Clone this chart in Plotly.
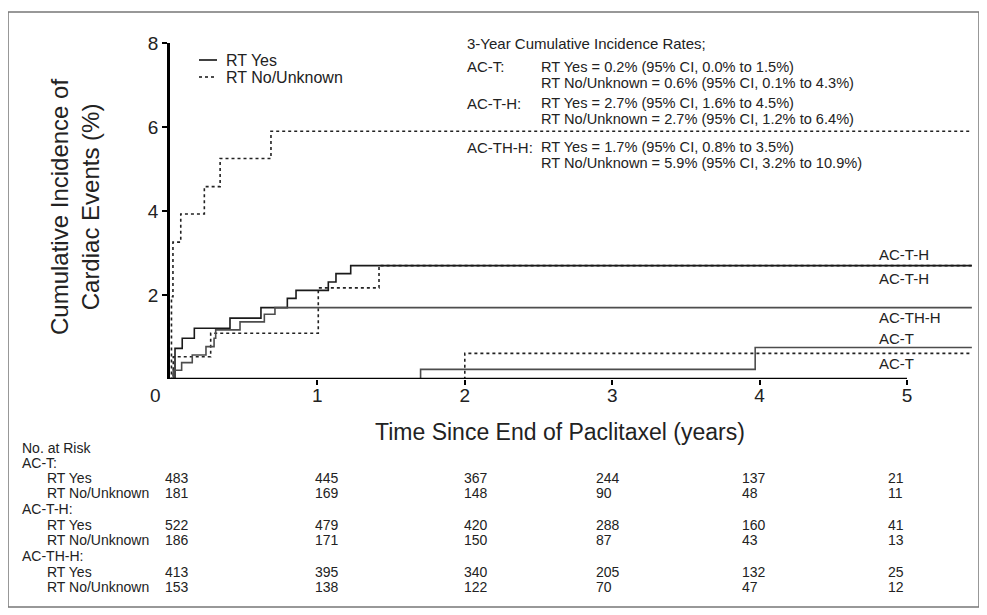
import plotly.graph_objects as go

# ---------------- data ----------------
# step functions: event times (years) and cumulative incidence (%)
act_yes_t = [0, 1.70, 3.97, 5.44]
act_yes_y = [0, 0.23, 0.75, 0.75]
act_no_t = [0, 2.00, 5.44]
act_no_y = [0, 0.61, 0.61]

acth_yes_t = [0, 0.034, 0.083, 0.165, 0.407, 0.617, 0.796, 0.855, 1.074, 1.126, 1.226, 5.44]
acth_yes_y = [0, 0.73, 0.97, 1.21, 1.45, 1.70, 1.92, 2.11, 2.31, 2.51, 2.70, 2.70]
acth_no_t = [0, 0.022, 0.276, 1.006, 1.418, 5.44]
acth_no_y = [0, 0.53, 1.09, 2.17, 2.70, 2.70]

acthh_yes_t = [0, 0.022, 0.079, 0.151, 0.244, 0.299, 0.31, 0.475, 0.64, 0.712, 5.44]
acthh_yes_y = [0, 0.21, 0.39, 0.57, 0.77, 0.97, 1.17, 1.36, 1.54, 1.70, 1.70]
acthh_no_t = [0, 0.01, 0.02, 0.073, 0.233, 0.34, 0.685, 5.44]
acthh_no_y = [0, 1.96, 3.26, 3.93, 4.58, 5.25, 5.90, 5.90]

x_tick_vals = [1, 2, 3, 4, 5]
y_tick_vals = [2, 4, 6, 8]

risk_times = [0, 1, 2, 3, 4, 5]
risk_act_yes = [483, 445, 367, 244, 137, 21]
risk_act_no = [181, 169, 148, 90, 48, 11]
risk_acth_yes = [522, 479, 420, 288, 160, 41]
risk_acth_no = [186, 171, 150, 87, 43, 13]
risk_acthh_yes = [413, 395, 340, 205, 132, 25]
risk_acthh_no = [153, 138, 122, 70, 47, 12]

legend_names = ["RT Yes", "RT No/Unknown"]

rates_title = "3-Year Cumulative Incidence Rates;"
rates_groups = ["AC-T:", "AC-T-H:", "AC-TH-H:"]
rates_yes = ["RT Yes = 0.2% (95% CI, 0.0% to 1.5%)",
             "RT Yes = 2.7% (95% CI, 1.6% to 4.5%)",
             "RT Yes = 1.7% (95% CI, 0.8% to 3.5%)"]
rates_no = ["RT No/Unknown = 0.6% (95% CI, 0.1% to 4.3%)",
            "RT No/Unknown = 2.7% (95% CI, 1.2% to 6.4%)",
            "RT No/Unknown = 5.9% (95% CI, 3.2% to 10.9%)"]

# ---------------- layout constants ----------------
W, H = 987, 615
OFF = 8  # page body margin
SL, SR, ST, SB = 170, 975, 43, 379  # plot area in screen pixels
ML, MR, MT, MB = SL - OFF, W - (SR - OFF), ST - OFF, H - (SB - OFF)
PW, PH = SR - SL, SB - ST
X_MAX = PW / 147.4
FONT = "Liberation Sans, Arial, Helvetica, sans-serif"
TXT = "#222222"


def pxx(px):
    return (px - SL) / PW


def pxy(py):
    return (SB - py) / PH


def note(fig, text, x, y, size, xanchor="left", xref="paper", yref="paper", **kw):
    fig.add_annotation(x=x, y=y, xref=xref, yref=yref, text=text, showarrow=False,
                       xanchor=xanchor, yanchor="middle",
                       font=dict(size=size, color=TXT), **kw)


fig = go.Figure()

curves = [
    # t, y, name, color, dash, label, label yshift
    (acthh_no_t, acthh_no_y, "AC-TH-H RT No/Unknown", "#222222", "dot", None, 0),
    (acth_no_t, acth_no_y, "AC-T-H RT No/Unknown", "#222222", "dot", "AC-T-H", 11),
    (acth_yes_t, acth_yes_y, "AC-T-H RT Yes", "#1a1a1a", "solid", "AC-T-H", -13),
    (acthh_yes_t, acthh_yes_y, "AC-TH-H RT Yes", "#4d4d4d", "solid", "AC-TH-H", -10),
    (act_yes_t, act_yes_y, "AC-T RT Yes", "#4d4d4d", "solid", "AC-T", 9),
    (act_no_t, act_no_y, "AC-T RT No/Unknown", "#222222", "dot", "AC-T", -10),
]
for t, y, name, col, dash, lab, ys in curves:
    fig.add_trace(go.Scatter(
        x=t, y=y, mode="lines", name=name, line_shape="hv",
        line=dict(color=col, width=1.6, dash=dash),
        showlegend=False, hoverinfo="skip"))
    if lab:
        note(fig, lab, 4.796, y[-1], 15, xref="x", yref="y", yshift=ys)

# manual legend (compact, as in the reference)
for name, dash, py in zip(legend_names, ["solid", "dot"], [60, 77]):
    fig.add_shape(type="line", xref="paper", yref="paper",
                  x0=pxx(199), x1=pxx(217), y0=pxy(py), y1=pxy(py),
                  line=dict(color="#111", width=1.6, dash=dash))
    note(fig, name, pxx(224), pxy(py), 16)

# x axis line (0..5) as in reference
fig.add_shape(type="line", xref="x", yref="y", x0=0, x1=5, y0=0, y1=0,
              line=dict(color="black", width=2.5))
# outer frame
fig.add_shape(type="rect", xref="paper", yref="paper",
              x0=pxx(8), x1=pxx(979), y0=pxy(607), y1=pxy(12),
              line=dict(color="#777", width=1.5))

# origin label
note(fig, "0", 0, 0, 19, xanchor="center", xref="x", yref="y", xshift=-15, yshift=-16)

# axis titles
note(fig, "Cumulative Incidence of<br>Cardiac Events (%)", pxx(75), pxy(207), 24,
     xanchor="center", textangle=-90)
note(fig, "Time Since End of Paclitaxel (years)", pxx(560), pxy(432), 23,
     xanchor="center")

# rates block
note(fig, rates_title, pxx(465), pxy(43), 15)
group_py = [67, 103, 147]
for g, yes, no, gy in zip(rates_groups, rates_yes, rates_no, group_py):
    note(fig, g, pxx(465), pxy(gy), 15)
    note(fig, yes, pxx(539), pxy(gy), 14.6)
    note(fig, no, pxx(539), pxy(gy + 16), 14.6)

# number at risk table
col_shift = [-7, -4, -3, -18, -20, -21]
rows = [
    ("No. at Risk", 20, 448, None),
    ("AC-T:", 20, 463, None),
    ("RT Yes", 45, 478, risk_act_yes),
    ("RT No/Unknown", 45, 493, risk_act_no),
    ("AC-T-H:", 20, 509, None),
    ("RT Yes", 45, 525, risk_acth_yes),
    ("RT No/Unknown", 45, 540, risk_acth_no),
    ("AC-TH-H:", 20, 556, None),
    ("RT Yes", 45, 572, risk_acthh_yes),
    ("RT No/Unknown", 45, 587, risk_acthh_no),
]
for lab, lx, ly, vals in rows:
    note(fig, lab, pxx(lx), pxy(ly), 14)
    if vals:
        for t, v, sh in zip(risk_times, vals, col_shift):
            note(fig, str(v), t, pxy(ly), 14, xref="x", xshift=sh)

fig.update_layout(
    width=W, height=H,
    margin=dict(l=ML, r=MR, t=MT, b=MB, pad=0),
    paper_bgcolor="white", plot_bgcolor="white",
    font=dict(family=FONT, color=TXT),
    showlegend=False,
    xaxis=dict(range=[0, X_MAX], tickvals=x_tick_vals, ticks="outside", ticklen=5,
               tickwidth=1.5, tickcolor="black", showgrid=False, zeroline=False,
               showline=False, ticklabelstandoff=-6,
               tickfont=dict(size=19, color=TXT)),
    yaxis=dict(range=[0, 8], tickvals=y_tick_vals, ticks="outside", ticklen=5,
               tickwidth=1.5, tickcolor="black", showgrid=False, zeroline=False,
               showline=True, linecolor="black", linewidth=2.5,
               tickfont=dict(size=19, color=TXT)),
)

fig.write_html("out.html")
